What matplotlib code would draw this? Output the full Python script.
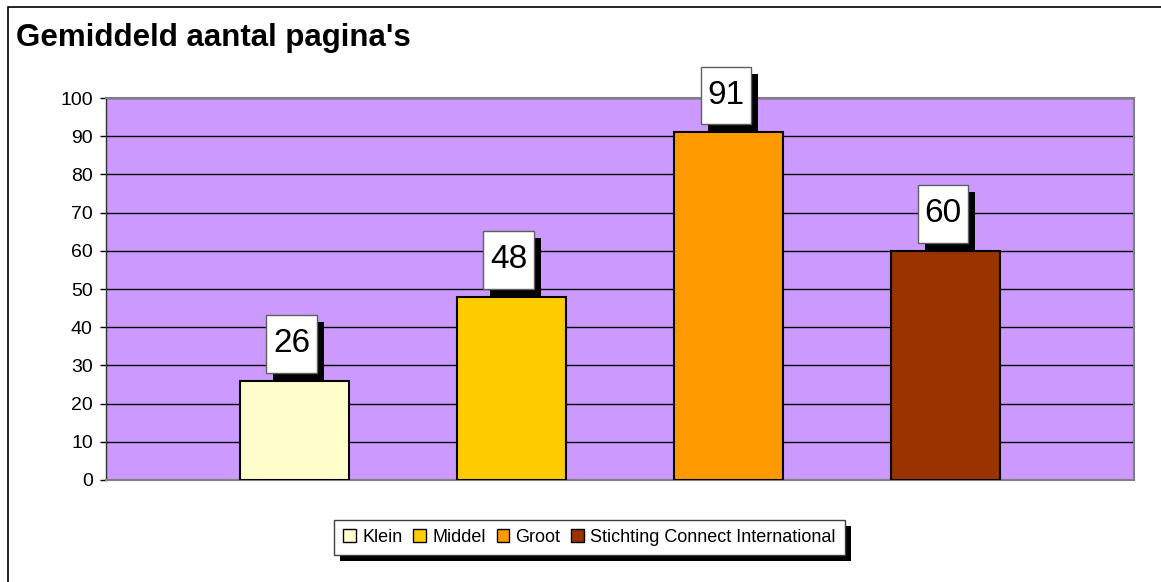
import matplotlib
matplotlib.use("Agg")
import matplotlib.pyplot as plt
import matplotlib.patheffects as pe
from matplotlib.patches import Rectangle
from matplotlib.path import Path

# chart data
series = ["Klein", "Middel", "Groot", "Stichting Connect International"]
values = [26, 48, 91, 60]
colors = ["#FFFFCC", "#FFCC00", "#FF9900", "#993300"]
yticks = [0, 10, 20, 30, 40, 50, 60, 70, 80, 90, 100]
title = "Gemiddeld aantal pagina's"

plt.rcParams["font.family"] = ["Liberation Sans", "DejaVu Sans"]


def label_box(x0, y0, width, height, mutation_size):
    """Square box with more padding above/below than left/right."""
    px = 0.2 * mutation_size
    py = 0.4 * mutation_size
    x1, y1 = x0 - px, y0 - py
    x2, y2 = x0 + width + px, y0 + height + py
    return Path([(x1, y1), (x2, y1), (x2, y2), (x1, y2), (x1, y1)],
                closed=True)


fig = plt.figure(figsize=(11.61, 5.82), dpi=100)
fig.patch.set_facecolor("white")

# outer chart border (only left and top fall inside the picture)
fig.patches.append(Rectangle((8 / 1161, -0.05), 1.1, 1.05 - 7 / 582,
                             transform=fig.transFigure, fill=False,
                             edgecolor="black", linewidth=1.2))

ax = fig.add_axes([106 / 1161, 102 / 582, 1028 / 1161, 382 / 582])
ax.set_facecolor("#CC99FF")

x = list(range(len(values)))
ax.bar(x, values, width=0.5, color=colors, edgecolor="black",
       linewidth=1.5, zorder=3)

ax.set_xlim(-0.867, 3.867)
ax.set_ylim(0, 100)
ax.set_yticks(yticks)
ax.set_xticks([])
ax.tick_params(axis="y", labelsize=14, length=4.5, width=1, pad=5,
               direction="out", color="black")
ax.yaxis.grid(True, color="black", linewidth=1, zorder=1)
ax.set_axisbelow(True)

for side in ["top", "right", "bottom"]:
    ax.spines[side].set_color("#808080")
    ax.spines[side].set_linewidth(1.5)
ax.spines["left"].set_color("#303030")
ax.spines["left"].set_linewidth(1)

shadow = [pe.SimplePatchShadow(offset=(5, -5), shadow_rgbFace="black", alpha=1),
          pe.Normal()]

for xi, v in zip(x, values):
    t = ax.annotate(str(v), (xi, v), xytext=(-2, 26.5),
                    textcoords="offset points", ha="center", va="center",
                    fontsize=24, zorder=5,
                    bbox=dict(boxstyle=label_box, facecolor="white",
                              edgecolor="#606060", linewidth=1))
    t.get_bbox_patch().set_path_effects(shadow)

fig.text(16 / 1161, 1 - 38 / 582, title, fontsize=22.5, fontweight="bold",
         ha="left", va="center")

handles = [Rectangle((0, 0), 1, 1, facecolor=c, edgecolor="black", linewidth=1)
           for c in colors]
leg = fig.legend(handles, series, loc="center", bbox_to_anchor=(0.5078, 0.0765),
                 ncol=4, fontsize=13, frameon=True, fancybox=False,
                 framealpha=1, handlelength=0.7, handleheight=0.7,
                 handletextpad=0.35, columnspacing=0.6, borderpad=0.5,
                 borderaxespad=0)
frame = leg.get_frame()
frame.set_facecolor("white")
frame.set_edgecolor("#404040")
frame.set_linewidth(1)
frame.set_path_effects([pe.SimplePatchShadow(offset=(4.5, -4.5),
                                             shadow_rgbFace="black", alpha=1),
                        pe.Normal()])

fig.savefig("out.png", dpi=100)
